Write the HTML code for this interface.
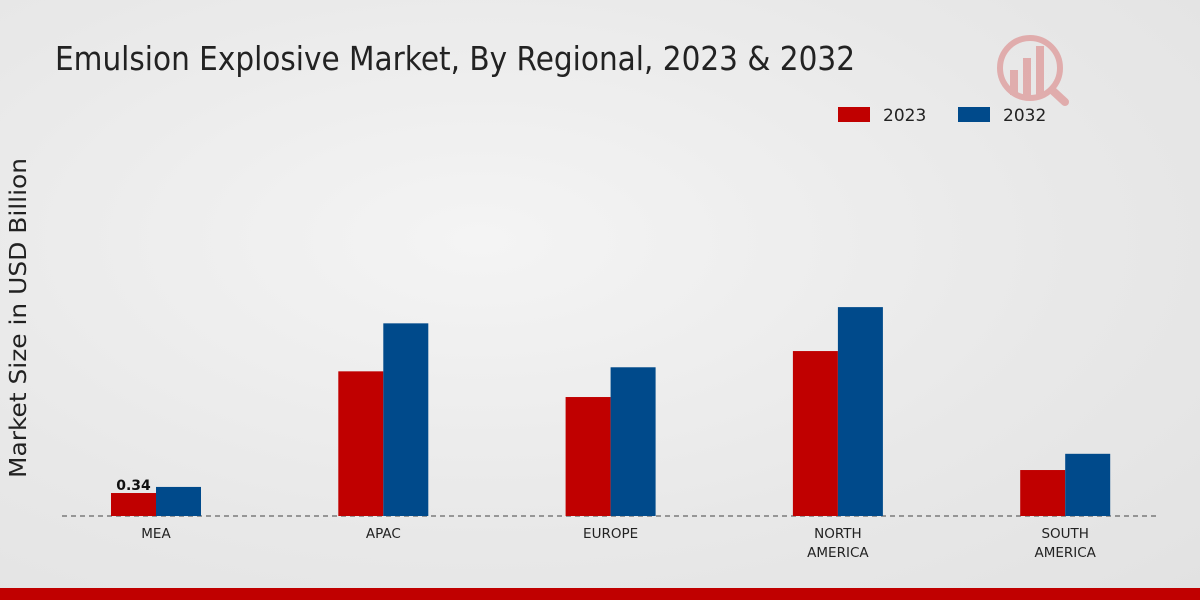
<!DOCTYPE html>
<html><head><meta charset="utf-8"><style>
html,body{margin:0;padding:0;width:1200px;height:600px;overflow:hidden}
body{background:radial-gradient(ellipse at 40% 40%,#f4f4f4 0%,#e8e8e8 60%,#e2e2e2 100%);font-family:"DejaVu Sans","Liberation Sans",sans-serif}
</style></head><body>
<svg width="1200" height="600">
<text x="55" y="70" font-size="33" fill="#222" textLength="800" lengthAdjust="spacingAndGlyphs">Emulsion Explosive Market, By Regional, 2023 &amp; 2032</text>
<g opacity="0.25">
<circle cx="1030" cy="68" r="30" fill="none" stroke="#c00" stroke-width="6"/>
<rect x="1010" y="70" width="8" height="25" fill="#c00"/><rect x="1023" y="58" width="8" height="37" fill="#c00"/><rect x="1036" y="46" width="8" height="49" fill="#c00"/>
<line x1="1052" y1="90" x2="1065" y2="102" stroke="#c00" stroke-width="8" stroke-linecap="round"/>
</g>
<g>
<rect x="838" y="107" width="32" height="15" fill="#c00000"/>
<text x="883" y="121" font-size="17" fill="#222">2023</text>
<rect x="958" y="107" width="32" height="15" fill="#004a8b"/>
<text x="1003" y="121" font-size="17" fill="#222">2032</text>
</g>
<text transform="translate(26,318) rotate(-90)" text-anchor="middle" font-size="23" fill="#222" textLength="320" lengthAdjust="spacingAndGlyphs">Market Size in USD Billion</text>
<line x1="62" y1="516" x2="1160" y2="516" stroke="#444" stroke-width="1" stroke-dasharray="5,4"/>
<g id="bars"></g>
<rect x="0" y="588" width="1200" height="12" fill="#c00000"/>
</svg>
<script>
const categories=[["MEA"],["APAC"],["EUROPE"],["NORTH","AMERICA"],["SOUTH","AMERICA"]];
const values2023=[0.34,2.14,1.76,2.44,0.68];
const values2032=[0.43,2.85,2.2,3.09,0.92];
const NS="http://www.w3.org/2000/svg";
const g=document.getElementById('bars');
const base=516, scale=67.6;
const xc=i=>156+i*227.3;
const y=v=>base-v*scale;
function mk(tag,attrs){const e=document.createElementNS(NS,tag);for(const k in attrs)e.setAttribute(k,attrs[k]);g.appendChild(e);return e;}
categories.forEach((c,i)=>{
  const b1=mk('rect',{x:xc(i)-45,y:y(values2023[i]),width:45,height:values2023[i]*scale,fill:'#c00000'});
  
  
  const b2=mk('rect',{x:xc(i),y:y(values2032[i]),width:45,height:values2032[i]*scale,fill:'#004a8b'});
  
  
  c.forEach((line,j)=>{
    const t=mk('text',{x:xc(i),y:538+j*19,'text-anchor':'middle','font-size':13.5,fill:'#222'});
    t.textContent=line;
    
    
  });
});
const lbl=mk('text',{x:xc(0)-22.5,y:y(values2023[0])-3,'text-anchor':'middle','font-size':14,'font-weight':'bold',fill:'#111'});
lbl.textContent=values2023[0].toFixed(2);


</script>
</body></html>
